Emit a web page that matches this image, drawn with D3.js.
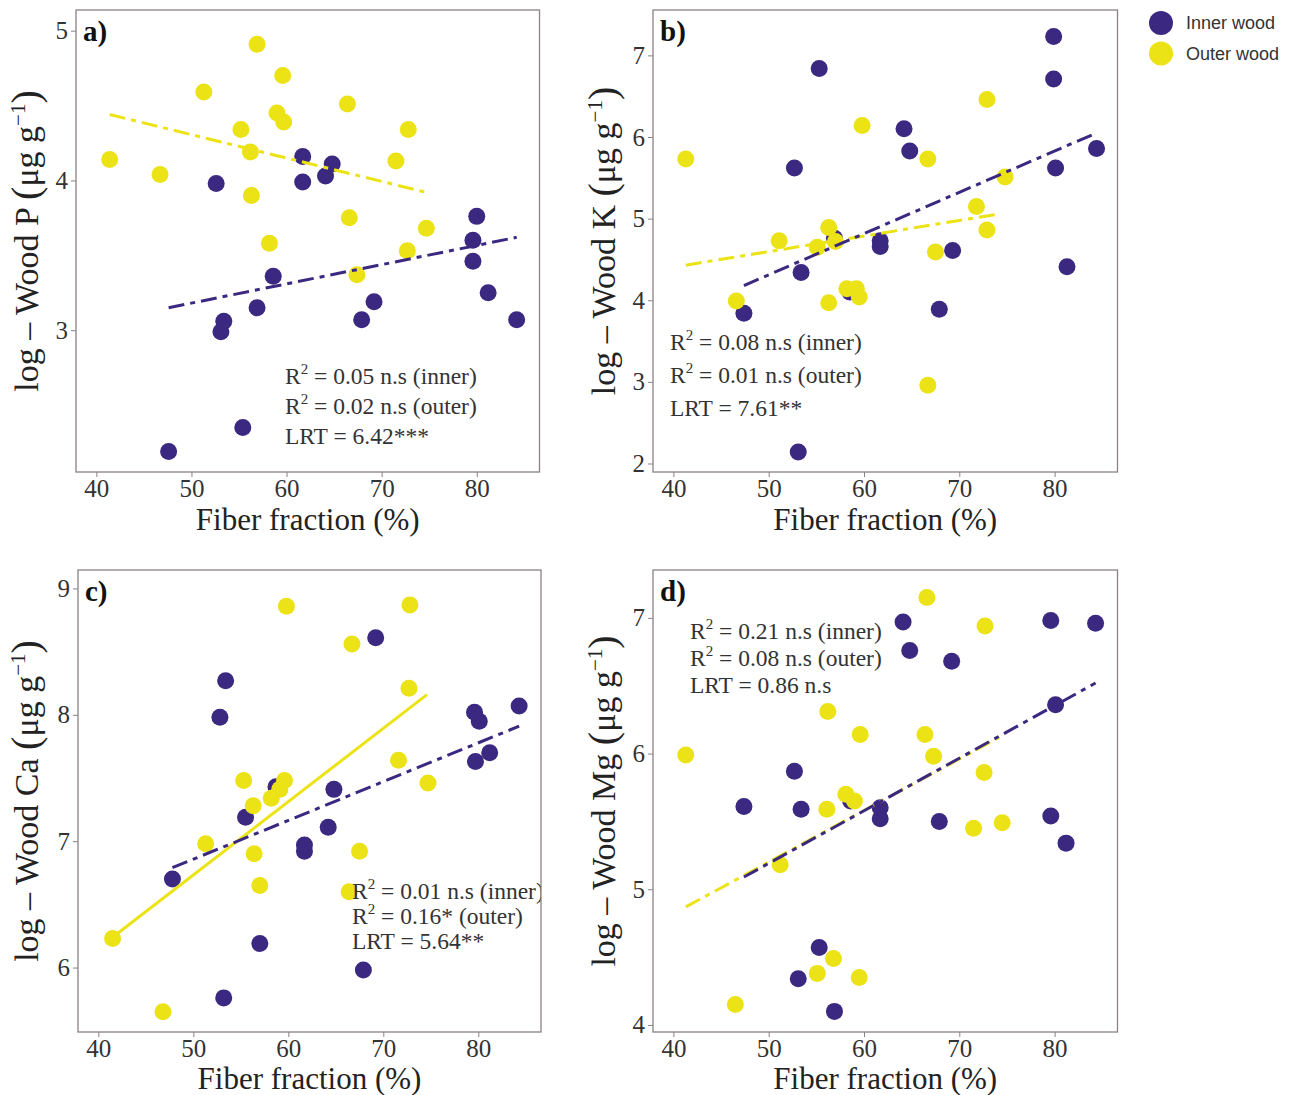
<!DOCTYPE html>
<html>
<head>
<meta charset="utf-8">
<script src="https://cdn.jsdelivr.net/npm/d3@7"></script>
<style>
body { margin: 0; background: #fff; }
svg text { font-family: "Liberation Serif", "Times New Roman", serif; fill: #222; }
</style>
</head>
<body>
<div id="chart"></div>
<script>
// fiber fraction (%) vs log nutrient, [x, y] per tree
var innerP = [[47.6,2.19],[52.6,3.98],[53.1,2.99],[53.4,3.06],[55.4,2.35],[56.9,3.15],[58.6,3.36],[61.7,4.16],[61.7,3.99],
              [64.1,4.03],[64.8,4.11],[67.9,3.07],[69.2,3.19],[79.6,3.60],[79.6,3.46],[80.0,3.76],[81.2,3.25],[84.2,3.07]];
var outerP = [[41.4,4.14],[46.7,4.04],[51.3,4.59],[55.2,4.34],[56.2,4.19],[56.3,3.90],[56.9,4.91],[58.2,3.58],[59.0,4.45],
              [59.6,4.70],[59.7,4.39],[66.4,4.51],[66.6,3.75],[67.4,3.37],[71.5,4.13],[72.8,4.34],[72.7,3.53],[74.7,3.68]];

var innerK = [[47.4,3.84],[52.7,5.62],[53.4,4.34],[53.1,2.14],[55.3,6.84],[56.9,4.76],[58.5,4.10],[61.7,4.73],[61.7,4.66],
              [64.2,6.10],[64.8,5.83],[67.9,3.89],[69.3,4.61],[79.9,7.23],[79.9,6.71],[80.1,5.62],[81.3,4.41],[84.4,5.86]];
var outerK = [[41.3,5.73],[46.6,3.99],[51.1,4.73],[55.1,4.65],[56.3,4.89],[56.3,3.97],[57.0,4.72],[58.2,4.14],[59.2,4.14],
              [59.5,4.04],[59.8,6.14],[66.7,5.73],[66.7,2.96],[67.5,4.59],[71.8,5.15],[72.9,6.46],[72.9,4.86],[74.8,5.51]];

var innerCa = [[47.8,6.70],[52.8,7.98],[53.4,8.27],[53.2,5.76],[55.5,7.19],[57.0,6.19],[58.7,7.43],[61.7,6.97],[61.7,6.92],
               [64.2,7.11],[64.8,7.41],[67.9,5.98],[69.2,8.61],[79.6,8.02],[79.7,7.63],[80.1,7.95],[81.2,7.70],[84.3,8.07]];
var outerCa = [[41.5,6.23],[46.8,5.65],[51.3,6.98],[55.3,7.48],[56.3,7.28],[56.4,6.90],[57.0,6.65],[58.2,7.34],[59.1,7.41],
               [59.6,7.48],[59.8,8.86],[66.7,8.56],[66.4,6.60],[67.5,6.92],[71.6,7.64],[72.8,8.87],[72.7,8.21],[74.7,7.46]];

var innerMg = [[47.4,5.61],[52.7,5.87],[53.4,5.59],[53.1,4.34],[55.3,4.57],[56.9,4.10],[58.6,5.65],[61.7,5.60],[61.7,5.52],
               [64.1,6.97],[64.8,6.76],[67.9,5.50],[69.2,6.68],[79.6,6.98],[79.6,5.54],[80.1,6.36],[81.2,5.34],[84.3,6.96]];
var outerMg = [[41.3,5.99],[46.5,4.15],[51.2,5.18],[55.1,4.38],[56.1,5.59],[56.2,6.31],[56.8,4.49],[58.1,5.70],[59.0,5.65],
               [59.5,4.35],[59.6,6.14],[66.6,7.15],[66.4,6.14],[67.3,5.98],[71.5,5.45],[72.7,6.94],[72.6,5.86],[74.5,5.49]];

// fitted lines, start and end
var fitInnerP = [[47.6,3.15],[84.2,3.62]];
var fitOuterP = [[41.4,4.44],[74.7,3.92]];
var fitInnerK = [[47.4,4.18],[84.4,6.05]];
var fitOuterK = [[41.3,4.43],[74.3,5.06]];
var fitInnerCa = [[47.8,6.79],[84.3,7.91]];
var fitOuterCa = [[41.5,6.24],[74.6,8.16]];
var fitInnerMg = [[47.4,5.09],[84.3,6.52]];
var fitOuterMg = [[41.3,4.87],[74.2,6.12]];

var xTicks = [40, 50, 60, 70, 80];
var yTicksP = [3, 4, 5];
var yTicksK = [2, 3, 4, 5, 6, 7];
var yTicksCa = [6, 7, 8, 9];
var yTicksMg = [4, 5, 6, 7];

var statsP = [["R2", "= 0.05 n.s (inner)"], ["R2", "= 0.02 n.s (outer)"], ["", "LRT = 6.42***"]];
var statsK = [["R2", "= 0.08 n.s (inner)"], ["R2", "= 0.01 n.s (outer)"], ["", "LRT = 7.61**"]];
var statsCa = [["R2", "= 0.01 n.s (inner)"], ["R2", "= 0.16* (outer)"], ["", "LRT = 5.64**"]];
var statsMg = [["R2", "= 0.21 n.s (inner)"], ["R2", "= 0.08 n.s (outer)"], ["", "LRT = 0.86 n.s"]];

var legendLabels = ["Inner wood", "Outer wood"];

var INNER = "#3b2880";
var OUTER = "#ece316";
var DASH = "16,6,5,6";

var svg = d3.select("#chart").append("svg")
    .attr("width", 1295)
    .attr("height", 1095);

var Panel = function(opts) {
    var self = this;
    this.opts = opts;
    this.x = d3.scaleLinear().domain([37.86, 86.6]).range([0, opts.width]);
    this.y = d3.scaleLinear().domain(opts.ydomain).range([opts.height, 0]);
    this.g = svg.append("g")
        .attr("transform", "translate(" + opts.left + "," + opts.top + ")");
    self.draw();
}

Panel.prototype.draw = function() {
    var self = this;
    var o = this.opts;

    var clipId = "clip-" + o.tag;
    this.g.append("clipPath").attr("id", clipId)
        .append("rect").attr("width", o.width).attr("height", o.height);

    var inner = this.g.append("g").attr("clip-path", "url(#" + clipId + ")");

    inner.selectAll("circle.inner").data(o.inner).enter().append("circle")
        .attr("class", "inner")
        .attr("cx", function(d) { return self.x(d[0]); })
        .attr("cy", function(d) { return self.y(d[1]); })
        .attr("r", 8.5)
        .style("fill", INNER);

    inner.selectAll("circle.outer").data(o.outer).enter().append("circle")
        .attr("class", "outer")
        .attr("cx", function(d) { return self.x(d[0]); })
        .attr("cy", function(d) { return self.y(d[1]); })
        .attr("r", 8.5)
        .style("fill", OUTER);

    var line = d3.line()
        .x(function(d) { return self.x(d[0]); })
        .y(function(d) { return self.y(d[1]); });

    inner.append("path").datum(o.fitOuter)
        .attr("d", line)
        .style("fill", "none")
        .style("stroke", OUTER)
        .style("stroke-width", 3)
        .style("stroke-dasharray", o.outerSolid ? null : DASH);

    inner.append("path").datum(o.fitInner)
        .attr("d", line)
        .style("fill", "none")
        .style("stroke", INNER)
        .style("stroke-width", 3)
        .style("stroke-dasharray", DASH);

    // stats text
    var st = inner.append("g")
        .attr("transform", "translate(" + o.stats.x + "," + o.stats.y + ")");
    o.stats.lines.forEach(function(l, i) {
        var t = st.append("text")
            .attr("x", 0)
            .attr("y", i * o.stats.step)
            .style("font-size", "23.5px")
            .style("fill", "#333");
        if (l[0]) {
            t.append("tspan").text("R");
            t.append("tspan").attr("dy", -10).style("font-size", "15px").text("2");
            t.append("tspan").attr("dy", 10).text(" " + l[1]);
        } else {
            t.text(l[1]);
        }
    });

    // panel letter
    this.g.append("text")
        .attr("x", 7)
        .attr("y", o.letterY)
        .style("font-size", "29px")
        .style("font-weight", "bold")
        .style("fill", "#111")
        .text(o.tag + ")");

    // frame
    this.g.append("rect")
        .attr("width", o.width)
        .attr("height", o.height)
        .style("fill", "none")
        .style("stroke", "#8b8282")
        .style("stroke-width", 1.3);

    var xAxis = this.g.append("g")
        .attr("transform", "translate(0," + o.height + ")")
        .call(d3.axisBottom(this.x).tickValues(xTicks).tickSize(5).tickPadding(2).tickSizeOuter(0));
    var yAxis = this.g.append("g")
        .call(d3.axisLeft(this.y).tickValues(o.yticks).tickFormat(d3.format("d"))
            .tickSize(5).tickPadding(3).tickSizeOuter(0));

    [xAxis, yAxis].forEach(function(a) {
        a.select(".domain").remove();
        a.selectAll(".tick line").style("stroke", "#8b8282");
        a.selectAll(".tick text")
            .style("font-size", "25px")
            .style("fill", "#333")
            .style("font-family", "Liberation Serif, serif");
    });

    this.g.append("text")
        .attr("x", o.width / 2)
        .attr("y", o.height + o.xtitleDy)
        .attr("text-anchor", "middle")
        .style("font-size", "31px")
        .text("Fiber fraction (%)");

    var yt = this.g.append("text")
        .attr("transform", "translate(" + o.ytitleX + "," + (o.height / 2) + ") rotate(-90)")
        .attr("text-anchor", "middle")
        .style("font-size", "34px");
    yt.append("tspan").text("log \u2013 Wood " + o.element + " ");
    yt.append("tspan").style("font-size", "40px").attr("dy", 1).text("(");
    yt.append("tspan").attr("dy", -1).text("\u03bcg g");
    yt.append("tspan").attr("dy", -13).style("font-size", "21px").text("\u22121");
    yt.append("tspan").attr("dy", 14).style("font-size", "40px").text(")");
}

new Panel({ tag: "a", element: "P", left: 76, top: 10, width: 463.5, height: 462,
    ydomain: [2.053, 5.138], yticks: yTicksP, inner: innerP, outer: outerP,
    fitInner: fitInnerP, fitOuter: fitOuterP, letterY: 31, xtitleDy: 58,
    stats: { x: 209, y: 374, step: 30, lines: statsP }, ytitleX: -38 });

new Panel({ tag: "b", element: "K", left: 653, top: 10, width: 464.5, height: 462,
    ydomain: [1.896, 7.556], yticks: yTicksK, inner: innerK, outer: outerK,
    fitInner: fitInnerK, fitOuter: fitOuterK, letterY: 31, xtitleDy: 58,
    stats: { x: 17, y: 340, step: 33, lines: statsK }, ytitleX: -38 });

new Panel({ tag: "c", element: "Ca", left: 78, top: 570, width: 463, height: 462,
    ydomain: [5.49, 9.146], yticks: yTicksCa, inner: innerCa, outer: outerCa,
    fitInner: fitInnerCa, fitOuter: fitOuterCa, outerSolid: true, letterY: 31, xtitleDy: 57,
    stats: { x: 274, y: 329, step: 25, lines: statsCa }, ytitleX: -40 });

new Panel({ tag: "d", element: "Mg", left: 653, top: 570, width: 464.5, height: 462,
    ydomain: [3.948, 7.353], yticks: yTicksMg, inner: innerMg, outer: outerMg,
    fitInner: fitInnerMg, fitOuter: fitOuterMg, letterY: 31, xtitleDy: 57,
    stats: { x: 37, y: 69, step: 27, lines: statsMg }, ytitleX: -38 });

// legend
var legend = svg.append("g").attr("transform", "translate(1161,23)");
legendLabels.forEach(function(lab, i) {
    legend.append("circle")
        .attr("cx", 0).attr("cy", i * 30.5)
        .attr("r", 12)
        .style("fill", i == 0 ? INNER : OUTER);
    legend.append("text")
        .attr("x", 25).attr("y", i * 30.5)
        .attr("dy", "0.35em")
        .style("font-family", "Liberation Sans, Arial, sans-serif")
        .style("font-size", "18px")
        .style("fill", "#333")
        .text(lab);
});
</script>
</body>
</html>
